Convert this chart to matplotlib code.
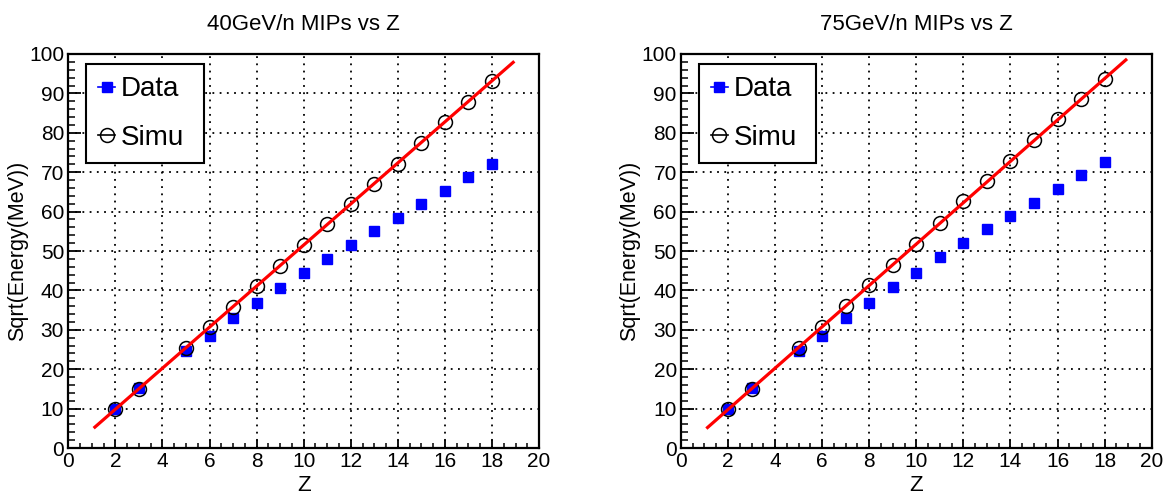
import matplotlib
matplotlib.use("Agg")
from matplotlib import pyplot as plt
from matplotlib.lines import Line2D
from matplotlib.ticker import MultipleLocator
import numpy as np

plt.rcParams['font.family'] = ['Liberation Sans', 'DejaVu Sans']

# charge values (Z = 4 missing in both runs)
z = [2, 3, 5, 6, 7, 8, 9, 10, 11, 12, 13, 14, 15, 16, 17, 18]

# 40 GeV/n
data_40 = [9.8, 15.2, 24.5, 28.5, 32.9, 36.9, 40.6, 44.4, 47.9, 51.6, 55.1, 58.5, 61.9, 65.2, 68.8, 72.1]
simu_40 = [10.0, 15.0, 25.4, 30.6, 35.8, 41.0, 46.2, 51.6, 56.8, 62.0, 67.1, 72.2, 77.4, 82.7, 87.9, 93.1]
fit_40 = (5.21, -0.59)   # slope, intercept

# 75 GeV/n
data_75 = [9.8, 15.2, 24.5, 28.5, 33.0, 36.9, 40.9, 44.5, 48.4, 52.0, 55.5, 59.0, 62.3, 65.8, 69.3, 72.6]
simu_75 = [9.8, 15.0, 25.5, 30.8, 36.0, 41.3, 46.5, 51.9, 57.2, 62.6, 67.8, 72.9, 78.1, 83.4, 88.6, 93.7]
fit_75 = (5.25, -0.73)

fit_range = (1.13, 18.9)

titles = ['40GeV/n MIPs vs Z', '75GeV/n MIPs vs Z']

fig = plt.figure(figsize=(11.65, 4.94), dpi=100)
ax1 = fig.add_axes([0.0586, 0.0931, 0.4041, 0.7976])
ax2 = fig.add_axes([0.5845, 0.0931, 0.4041, 0.7976])

panels = [(ax1, data_40, simu_40, fit_40, titles[0]),
          (ax2, data_75, simu_75, fit_75, titles[1])]

for ax, d, s, fit, title in panels:
    ax.plot(z, d, ls='none', marker='s', ms=6.5, color='#0000ff', mec='#0000ff', zorder=3)
    ax.plot(z, s, ls='none', marker='o', ms=10, mfc='none', mec='black', mew=1.1, zorder=4)
    xf = np.array(fit_range)
    ax.plot(xf, fit[0] * xf + fit[1], color='#ff0000', lw=2.3, zorder=5)

    ax.set_xlim(0, 20)
    ax.set_ylim(0, 100)
    ax.xaxis.set_major_locator(MultipleLocator(2))
    ax.xaxis.set_minor_locator(MultipleLocator(0.5))
    ax.yaxis.set_major_locator(MultipleLocator(10))
    ax.yaxis.set_minor_locator(MultipleLocator(2))
    ax.tick_params(which='both', direction='in', top=False, right=False, labelsize=15)
    ax.tick_params(axis='y', which='major', length=9.5, width=1.3, pad=3)
    ax.tick_params(axis='y', which='minor', length=5, width=1.1)
    ax.tick_params(axis='x', which='major', length=6, width=1.3, pad=3)
    ax.tick_params(axis='x', which='minor', length=3.5, width=1.1)
    ax.grid(True, which='major', color='black', ls=(0, (1, 3)), lw=1.3)
    for sp in ax.spines.values():
        sp.set_linewidth(1.6)
    ax.set_title(title, fontsize=16, pad=17)
    ax.set_xlabel('Z', fontsize=16, labelpad=3)
    ax.set_ylabel('Sqrt(Energy(MeV))', fontsize=15.5, labelpad=1)

    handles = [Line2D([], [], color='#0000ff', marker='s', ms=6.5, lw=1.2),
               Line2D([], [], color='black', marker='o', ms=10, mfc='none', mew=1.1, lw=1.2)]
    leg = ax.legend(handles, ['Data', 'Simu'], loc='upper left',
                    bbox_to_anchor=(0.0376, 0.975, 0.25, 0.0), mode='expand',
                    fontsize=20, frameon=True, fancybox=False, borderaxespad=0,
                    handlelength=0.6, handletextpad=0.2, borderpad=0.45,
                    labelspacing=0.8)
    leg.get_frame().set_edgecolor('black')
    leg.get_frame().set_linewidth(1.5)
    leg.get_frame().set_alpha(1)

fig.savefig('out.png', dpi=100)
